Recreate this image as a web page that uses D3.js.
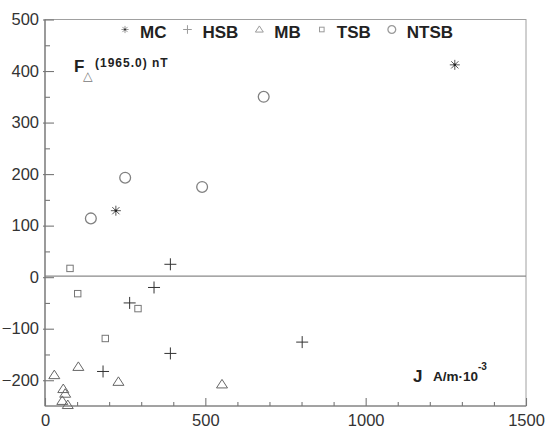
<!DOCTYPE html>
<html><head><meta charset="utf-8">
<script src="https://cdn.jsdelivr.net/npm/d3@7"></script>
<style>body{margin:0;background:#fff}svg{display:block}</style>
</head><body><svg id="c" width="547" height="430"></svg>
<script>
const seriesNames = ["MC", "HSB", "MB", "TSB", "NTSB"];
const seriesShapes = ["asterisk", "plus", "triangle", "square", "circle"];
const mcData = [[1278, 412], [221, 129]];
const hsbData = [[391, 25], [340, -20], [264, -50], [391, -148], [181, -183], [802, -126]];
const mbData = [[29, -190], [104, -174], [229, -203], [552, -208], [57, -217], [63, -226], [54, -240], [71, -248]];
const tsbData = [[78, 17], [102, -32], [290, -61], [188, -119]];
const ntsbData = [[143, 114], [250, 193], [490, 175], [682, 350]];
const xTicks = [0, 500, 1000, 1500];
const xMinorTicks = [100, 200, 300, 400, 600, 700, 800, 900, 1100, 1200, 1300, 1400];
const yTicks = [-200, -100, 0, 100, 200, 300, 400, 500];
const yMinorTicks = [-150, -50, 50, 150, 250, 350, 450];
const xDomain = [0, 1500];
const yDomain = [-250, 500];
const refLineValue = 2;
const yLabelMain = "F";
const yLabelSub = "\u25B3";
const yLabelSup = "(1965.0) nT";
const xLabelMain = "J";
const xLabelUnit = "A/m\u00B710";
const xLabelSup = "-3";

const allData = [mcData, hsbData, mbData, tsbData, ntsbData];

const svg = d3.select("#c");
const x = d3.scaleLinear().domain(xDomain).range([45, 526]);
const y = d3.scaleLinear().domain(yDomain).range([406, 19.5]);

// frame
svg.append("rect")
  .attr("x", x(xDomain[0])).attr("y", y(yDomain[1]))
  .attr("width", x(xDomain[1]) - x(xDomain[0]))
  .attr("height", y(yDomain[0]) - y(yDomain[1]))
  .attr("fill", "none").attr("stroke", "#a0a0a0").attr("stroke-width", 1);

// reference line
svg.append("line")
  .attr("x1", x(xDomain[0])).attr("x2", x(xDomain[1]))
  .attr("y1", y(refLineValue)).attr("y2", y(refLineValue))
  .attr("stroke", "#8a8a8a").attr("stroke-width", 1.2);

// axes lines
svg.append("line").attr("x1", x(0)).attr("x2", x(0)).attr("y1", y(yDomain[0])).attr("y2", y(yDomain[1]))
  .attr("stroke", "#777").attr("stroke-width", 1.2);
svg.append("line").attr("x1", x(xDomain[0])).attr("x2", x(xDomain[1])).attr("y1", y(yDomain[0])).attr("y2", y(yDomain[0]))
  .attr("stroke", "#777").attr("stroke-width", 1.2);

function styleTicks(g) {
  g.select(".domain").remove();
  g.selectAll(".tick line").attr("stroke", "#777").attr("stroke-width", 1.1);
}

// y major ticks
svg.append("g").attr("transform", `translate(${x(0) - 2},0)`)
  .call(d3.axisLeft(y).tickValues(yTicks).tickSize(-11).tickFormat(""))
  .call(styleTicks);
svg.append("g").attr("transform", `translate(${x(0)},0)`)
  .call(d3.axisLeft(y).tickValues(yMinorTicks).tickSize(-5).tickFormat(""))
  .call(styleTicks);
// y labels
const yl = svg.append("g").attr("transform", `translate(${x(0)},0)`)
  .call(d3.axisLeft(y).tickValues(yTicks).tickSize(0).tickPadding(6).tickFormat(d3.format("d")));
yl.select(".domain").remove();
yl.selectAll("text").attr("font-family", "Liberation Sans, Arial, sans-serif").attr("font-size", 16.5).attr("fill", "#333");

// x ticks
svg.append("g").attr("transform", `translate(0,${y(yDomain[0])})`)
  .call(d3.axisBottom(x).tickValues(xTicks).tickSize(-8).tickFormat(""))
  .call(styleTicks);
svg.append("g").attr("transform", `translate(0,${y(yDomain[0])})`)
  .call(d3.axisBottom(x).tickValues(xMinorTicks).tickSize(-4).tickFormat(""))
  .call(styleTicks);
const xl = svg.append("g").attr("transform", `translate(0,${y(yDomain[0])})`)
  .call(d3.axisBottom(x).tickValues(xTicks).tickSize(0).tickPadding(8).tickFormat(d3.format("d")));
xl.select(".domain").remove();
xl.selectAll("text").attr("font-family", "Liberation Sans, Arial, sans-serif").attr("font-size", 16.5).attr("fill", "#333");

// marker drawing
const markerStyle = {
  asterisk: {color: "#555", s: 5, w: 1},
  plus: {color: "#333", s: 6, w: 1},
  triangle: {color: "#666", s: 5.5, w: 1},
  square: {color: "#777", s: 3.2, w: 1},
  circle: {color: "#808080", s: 5.4, w: 1.3}
};
function drawMarker(g, type, cx, cy, scale, colorOverride) {
  const st = markerStyle[type];
  const s = st.s * scale;
  const c = colorOverride || st.color;
  const m = g.append("g").attr("transform", `translate(${cx},${cy})`)
    .attr("fill", "none").attr("stroke", c).attr("stroke-width", st.w);
  if (type === "asterisk") {
    const d = s * 0.72;
    m.append("path").attr("d", `M${-s},0H${s}M0,${-s}V${s}M${-d},${-d}L${d},${d}M${-d},${d}L${d},${-d}`);
    m.append("circle").attr("r", 1.3 * scale).attr("fill", "#222").attr("stroke", "none");
  } else if (type === "plus") {
    m.append("path").attr("d", `M${-s},0H${s}M0,${-s}V${s}`);
  } else if (type === "triangle") {
    m.append("path").attr("d", `M0,${-s * 0.9}L${s},${s * 0.65}L${-s},${s * 0.65}Z`);
  } else if (type === "square") {
    m.append("rect").attr("x", -s).attr("y", -s).attr("width", 2 * s).attr("height", 2 * s);
  } else if (type === "circle") {
    m.append("circle").attr("r", s);
  }
}

const pts = svg.append("g");
allData.forEach((data, i) => {
  data.forEach(d => drawMarker(pts, seriesShapes[i], x(d[0]), y(d[1]), 1));
});

// legend
const lg = svg.append("g");
let lx = 125;
const legY = 29.5;
seriesNames.forEach((name, i) => {
  drawMarker(lg, seriesShapes[i], lx, legY, 0.72, "#9a9a9a");
  const t = lg.append("text").attr("x", lx + 15).attr("y", 37.5)
    .attr("font-family", "Liberation Sans, Arial, sans-serif").attr("font-weight", "bold")
    .attr("font-size", 17).attr("fill", "#222").text(name);
  lx = lx + 15 + t.node().getComputedTextLength() + 21;
});

// y label
svg.append("text").attr("x", 74).attr("y", 71.5)
  .attr("font-family", "Liberation Sans, Arial, sans-serif").attr("font-weight", "bold")
  .attr("font-size", 17).attr("fill", "#222").text(yLabelMain);
svg.append("text").attr("x", 83).attr("y", 79.5)
  .attr("font-family", "DejaVu Sans, sans-serif")
  .attr("font-size", 12.5).attr("fill", "#777").text(yLabelSub);
svg.append("text").attr("x", 95).attr("y", 67)
  .attr("font-family", "Liberation Sans, Arial, sans-serif").attr("font-weight", "bold")
  .attr("font-size", 12).attr("letter-spacing", 1).attr("fill", "#222").text(yLabelSup);

// x label
svg.append("text").attr("x", 413).attr("y", 381.5)
  .attr("font-family", "Liberation Sans, Arial, sans-serif").attr("font-weight", "bold")
  .attr("font-size", 17).attr("fill", "#222").text(xLabelMain);
const ux = svg.append("text").attr("x", 433).attr("y", 381)
  .attr("font-family", "Liberation Sans, Arial, sans-serif").attr("font-weight", "bold")
  .attr("font-size", 13.5).attr("fill", "#222").text(xLabelUnit);
const uw = ux.node().getComputedTextLength();
svg.append("text").attr("x", 433 + uw).attr("y", 370)
  .attr("font-family", "Liberation Sans, Arial, sans-serif").attr("font-weight", "bold")
  .attr("font-size", 10).attr("fill", "#222").text(xLabelSup);
</script>
</body></html>
